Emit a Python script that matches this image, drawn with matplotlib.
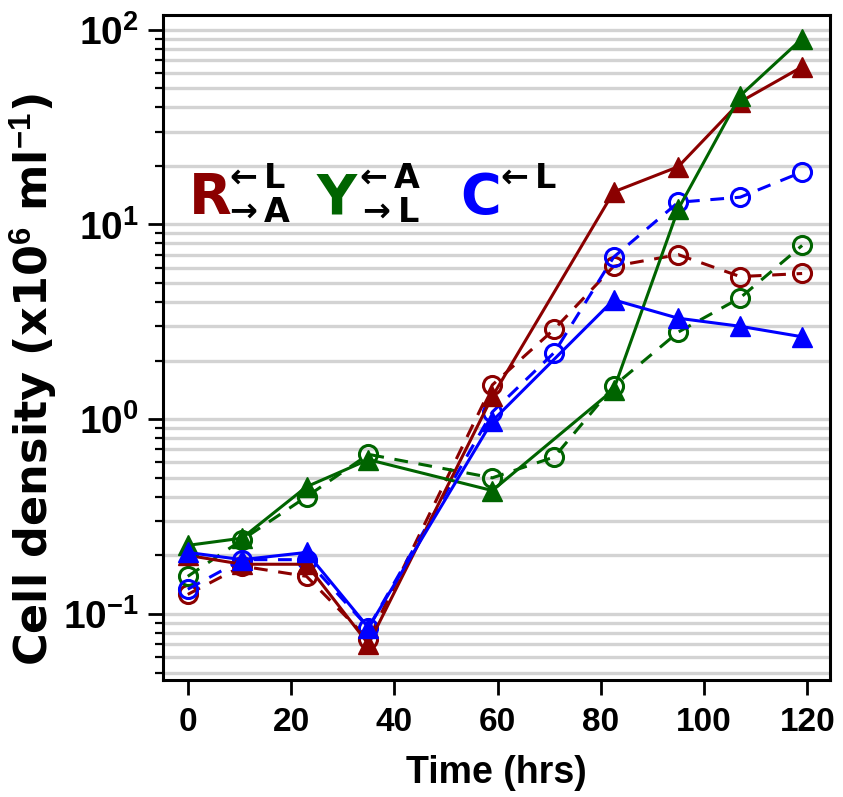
import numpy as np
import matplotlib
matplotlib.use("Agg")
import matplotlib.pyplot as plt
from matplotlib.ticker import LogLocator, NullFormatter, FixedLocator

plt.rcParams['mathtext.fontset'] = 'custom'
plt.rcParams['mathtext.rm'] = 'Liberation Sans'
plt.rcParams['mathtext.bf'] = 'Liberation Sans:bold'

# sampling times (hrs)
t_all = [0, 10.5, 23, 35, 59, 71, 82.5, 95, 107, 119]
t_tri = [0, 10.5, 23, 35, 59, 82.5, 95, 107, 119]

# triangles, solid lines
red_tri = [0.20, 0.18, 0.18, 0.070, 1.31, 14.7, 19.8, 42.6, 64.5]
green_tri = [0.225, 0.245, 0.45, 0.62, 0.43, 1.42, 12.0, 45.8, 90.0]
blue_tri = [0.207, 0.19, 0.207, 0.085, 0.98, 4.1, 3.3, 3.0, 2.65]

# circles, dashed lines
red_circ = [0.126, 0.176, 0.156, 0.074, 1.5, 2.9, 6.1, 7.0, 5.4, 5.6]
green_circ = [0.156, 0.24, 0.40, 0.66, 0.50, 0.64, 1.48, 2.8, 4.2, 7.8]
blue_circ = [0.134, 0.19, 0.19, 0.085, 1.09, 2.2, 6.8, 13.0, 13.8, 18.6]

RED = '#8b0000'
GREEN = '#006400'
BLUE = '#0000ff'

NARROW = ['Liberation Sans Narrow', 'DejaVu Sans Condensed', 'Liberation Sans']

W, H = 843, 797
fig = plt.figure(figsize=(W / 100, H / 100), dpi=100)
ax = fig.add_axes([163 / W, 1 - 680 / H, (830 - 163) / W, (680 - 15) / H])

ax.set_yscale('log')
ax.set_xlim(-4.8, 124.4)
ax.set_ylim(0.0458, 119)

# horizontal grid at every (minor and major) log tick
grid_vals = [m * 10.0 ** e for e in range(-2, 3) for m in range(1, 10)]
for g in grid_vals:
    if 0.0458 < g < 119:
        ax.axhline(g, color='#d3d3d3', lw=2.4, zorder=0)

for series, col in [(red_circ, RED), (green_circ, GREEN), (blue_circ, BLUE)]:
    ax.plot(t_all, series, color=col, lw=2.2, dashes=(4.5, 3.5), marker='o',
            markersize=13, markerfacecolor='none', markeredgewidth=2.2, zorder=3)
for series, col in [(red_tri, RED), (green_tri, GREEN), (blue_tri, BLUE)]:
    ax.plot(t_tri, series, color=col, lw=2.2, marker='^', markersize=15,
            zorder=4)

for s in ax.spines.values():
    s.set_linewidth(2.2)

ax.set_xticks([0, 20, 40, 60, 80, 100, 120])
ax.set_xticklabels(['0', '20', '40', '60', '80', '100', '120'],
                   family=NARROW, fontweight='bold', fontsize=24)
ax.yaxis.set_major_locator(FixedLocator([0.1, 1, 10, 100]))
ax.yaxis.set_minor_locator(LogLocator(base=10, subs=np.arange(2, 10)))
ax.yaxis.set_minor_formatter(NullFormatter())
ax.set_yticklabels([r'$\mathbf{10^{-1}}$', r'$\mathbf{10^{0}}$',
                    r'$\mathbf{10^{1}}$', r'$\mathbf{10^{2}}$'], fontsize=28)
ax.tick_params(axis='both', which='major', direction='out', length=10.5,
               width=2)
ax.tick_params(axis='x', which='major', pad=9)
ax.tick_params(axis='y', which='major', pad=7)
ax.tick_params(axis='y', which='minor', direction='out', length=6, width=1.6)

ax.set_xlabel('Time (hrs)', family='Liberation Sans', fontweight='bold',
              fontsize=27, labelpad=12)
ax.set_ylabel('Cell density (x10$^\\mathbf{6}$ ml$^\\mathbf{-1}$)',
              family='DejaVu Sans', fontweight='bold', fontsize=32)
ax.yaxis.set_label_coords(-(163 - 60) / (830 - 163), (680 - 380) / (680 - 15))


def ftxt(px, py, s, **kw):
    fig.text(px / W, 1 - py / H, s, fontweight='bold', family='DejaVu Sans',
             **kw)


# strain labels
ftxt(189, 213, 'R', color=RED, fontsize=40)
ftxt(229, 187, '\u2190', color='black', fontsize=24)
ftxt(264, 188, 'L', color='black', fontsize=24)
ftxt(229, 221, '\u2192', color='black', fontsize=24)
ftxt(264, 222, 'A', color='black', fontsize=24)
ftxt(317, 213, 'Y', color=GREEN, fontsize=40)
ftxt(359, 187, '\u2190', color='black', fontsize=24)
ftxt(394, 188, 'A', color='black', fontsize=24)
ftxt(362, 221, '\u2192', color='black', fontsize=24)
ftxt(398, 222, 'L', color='black', fontsize=24)
ftxt(460, 213, 'C', color=BLUE, fontsize=40)
ftxt(500, 187, '\u2190', color='black', fontsize=24)
ftxt(535, 188, 'L', color='black', fontsize=24)

fig.savefig('out.png', dpi=100)
